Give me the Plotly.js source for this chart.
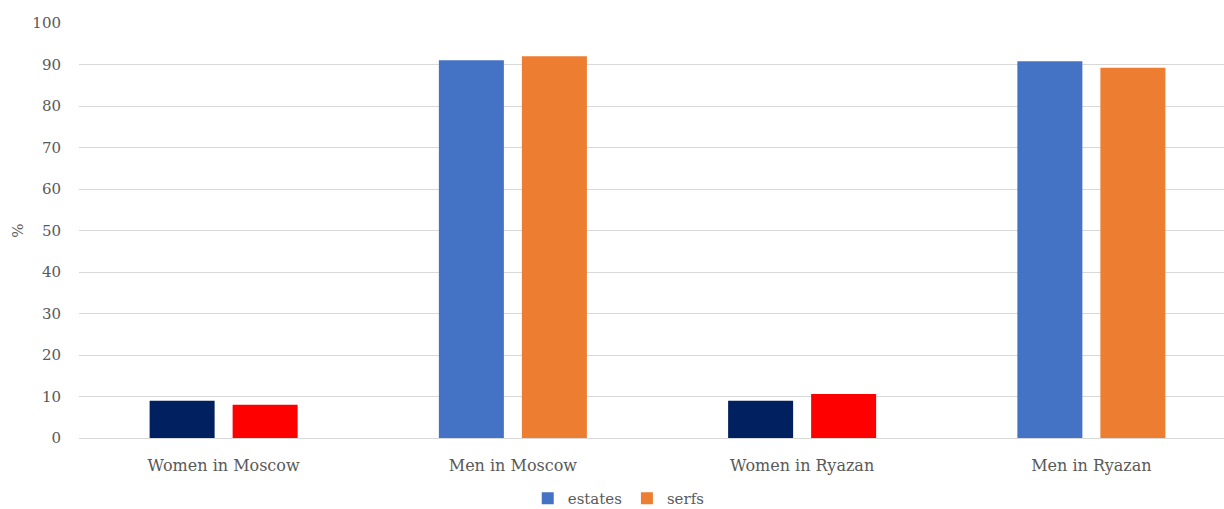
<!DOCTYPE html>
<html>
<head>
<meta charset="utf-8">
<script src="https://cdn.plot.ly/plotly-3.0.1.min.js"></script>
<style>
html,body{margin:0;padding:0;background:#fff;overflow:hidden;}
#chart{width:1224px;height:509px;}
</style>
</head>
<body>
<div id="chart"></div>
<script>
const categories = ["Women in Moscow", "Men in Moscow", "Women in Ryazan", "Men in Ryazan"];
const estates = [9.0, 91.0, 9.0, 90.8];
const serfs = [8.0, 92.0, 10.6, 89.2];
const estatesColors = ["#002060", "#4472C4", "#002060", "#4472C4"];
const serfsColors = ["#FF0000", "#ED7D31", "#FF0000", "#ED7D31"];
const legendNames = ["estates", "serfs"];
const legendColors = ["#4472C4", "#ED7D31"];
const yTicks = [0, 10, 20, 30, 40, 50, 60, 70, 80, 90, 100];

const serif = "DejaVu Serif, serif";

const traces = [
  {type: "bar", x: categories, y: estates, name: legendNames[0], marker: {color: estatesColors}, showlegend: false},
  {type: "bar", x: categories, y: serfs, name: legendNames[1], marker: {color: serfsColors}, showlegend: false},
  {type: "bar", x: [categories[0]], y: [null], name: legendNames[0], marker: {color: legendColors[0]}, xaxis: "x2", yaxis: "y2", showlegend: true},
  {type: "bar", x: [categories[0]], y: [null], name: legendNames[1], marker: {color: legendColors[1]}, xaxis: "x2", yaxis: "y2", showlegend: true}
];

const layout = {
  width: 1224, height: 509,
  margin: {l: 79, r: 0, t: 23, b: 71, autoexpand: false},
  paper_bgcolor: "#fff", plot_bgcolor: "#fff",
  barmode: "group",
  bargap: 0.426,
  bargroupgap: 0.217,
  font: {family: serif, color: "#595959", size: 16},
  xaxis: {
    type: "category",
    range: [-0.5, 3.4585],
    showgrid: false, zeroline: false, showline: false,
    ticks: "", ticklabelstandoff: 16,
    tickfont: {family: serif, size: 16, color: "#595959"},
    fixedrange: true
  },
  yaxis: {
    range: [0, 100],
    tickvals: yTicks,
    ticktext: yTicks.map(String),
    showgrid: true, gridcolor: "#d9d9d9", gridwidth: 1,
    zeroline: true, zerolinecolor: "#d9d9d9", zerolinewidth: 1,
    showline: false, ticks: "",
    ticklabelstandoff: 17,
    tickfont: {family: serif, size: 15, color: "#595959"},
    title: {text: "%", font: {family: serif, size: 15, color: "#595959"}, standoff: 5},
    fixedrange: true
  },
  xaxis2: {overlaying: "x", visible: false, type: "category"},
  yaxis2: {overlaying: "y", visible: false, range: [0, 100]},
  showlegend: true,
  legend: {
    orientation: "h",
    x: 0.4714, xanchor: "center",
    y: -0.146, yanchor: "middle",
    font: {family: serif, size: 15, color: "#595959"},
    itemwidth: 30,
    tracegroupgap: 0,
    traceorder: "normal"
  }
};

Plotly.newPlot("chart", traces, layout, {displayModeBar: false, staticPlot: true});
</script>
</body>
</html>
